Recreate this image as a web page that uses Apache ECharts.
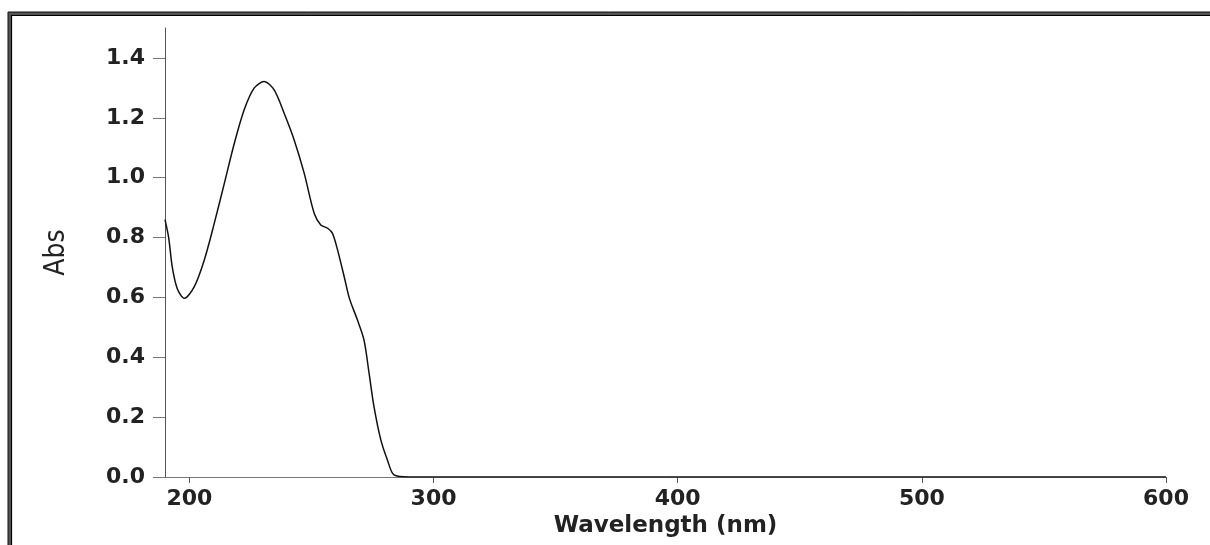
<!DOCTYPE html>
<html>
<head>
<meta charset="utf-8">
<script src="https://cdn.jsdelivr.net/npm/echarts@6/dist/echarts.min.js"></script>
<style>
html,body{margin:0;padding:0;background:#fff;}
#chart{width:1210px;height:545px;}
</style>
</head>
<body>
<div id="chart"></div>
<script>
// Wavelength (nm) and absorbance
var wavelength = [190, 191.5, 193, 195, 197.9, 202, 206.1, 210.2, 214.3, 218.4, 222.4, 226.5, 230.6, 234.7, 238.8, 242.9, 247, 251.1, 253.8, 256.6, 258.6, 260.7, 263.4, 265.6, 268.8, 271.5, 273.6, 275.6, 278.4, 281.1, 283.8, 290, 350, 450, 550, 600];
var absorbance = [0.86, 0.80, 0.70, 0.63, 0.597, 0.636, 0.725, 0.848, 0.981, 1.115, 1.226, 1.299, 1.321, 1.293, 1.215, 1.126, 1.015, 0.881, 0.842, 0.831, 0.814, 0.758, 0.669, 0.595, 0.525, 0.458, 0.346, 0.235, 0.124, 0.057, 0.007, 0, 0, 0, 0, 0];
var xTicks = [200, 300, 400, 500, 600];
var yTicks = [0.0, 0.2, 0.4, 0.6, 0.8, 1.0, 1.2, 1.4];

var seriesData = wavelength.map(function (w, i) { return [w, absorbance[i]]; });

var chart = echarts.init(document.getElementById('chart'), null, {renderer: 'canvas'});
var labelFont = {fontFamily: 'DejaVu Sans', fontWeight: 'bold', fontSize: 22, color: '#222'};

chart.setOption({
  animation: false,
  backgroundColor: '#fff',
  graphic: [
    {type: 'rect', shape: {x: 9.5, y: 13.5, width: 1300, height: 700}, style: {fill: null, stroke: '#555', lineWidth: 3}, silent: true},
    {type: 'rect', shape: {x: 8, y: 12, width: 1300, height: 700}, style: {fill: null, stroke: '#111', lineWidth: 1}, silent: true},
    {type: 'rect', shape: {x: 11.5, y: 15.5, width: 1300, height: 700}, style: {fill: null, stroke: '#000', lineWidth: 1.2}, silent: true}
  ],
  grid: {left: 165, right: 44, top: 28, bottom: 68, containLabel: false},
  xAxis: {
    type: 'value',
    min: 190,
    max: 600,
    name: 'Wavelength (nm)',
    nameLocation: 'middle',
    nameGap: 38,
    nameTextStyle: {fontFamily: 'DejaVu Sans', fontWeight: 'bold', fontSize: 23, color: '#222'},
    axisLine: {show: true, lineStyle: {color: '#777', width: 1}},
    axisTick: {show: true, length: 6, customValues: xTicks, lineStyle: {color: '#555'}},
    axisLabel: Object.assign({margin: 11, customValues: xTicks, formatter: function (v) { return String(v); }}, labelFont),
    splitLine: {show: false}
  },
  yAxis: {
    type: 'value',
    min: 0,
    max: 1.5,
    name: 'Abs',
    nameLocation: 'middle',
    nameGap: 94,
    nameRotate: 90,
    nameTextStyle: {fontFamily: 'DejaVu Sans Condensed', fontSize: 28, color: '#222'},
    axisLine: {show: true, lineStyle: {color: '#555', width: 1}},
    axisTick: {show: true, length: 12, customValues: yTicks, lineStyle: {color: '#777'}},
    axisLabel: Object.assign({margin: 20, customValues: yTicks, formatter: function (v) { return v.toFixed(1); }}, labelFont),
    splitLine: {show: false}
  },
  series: [{
    type: 'line',
    data: seriesData,
    smooth: 0.3,
    showSymbol: false,
    lineStyle: {color: '#111', width: 1.5}
  }]
});
</script>
</body>
</html>
